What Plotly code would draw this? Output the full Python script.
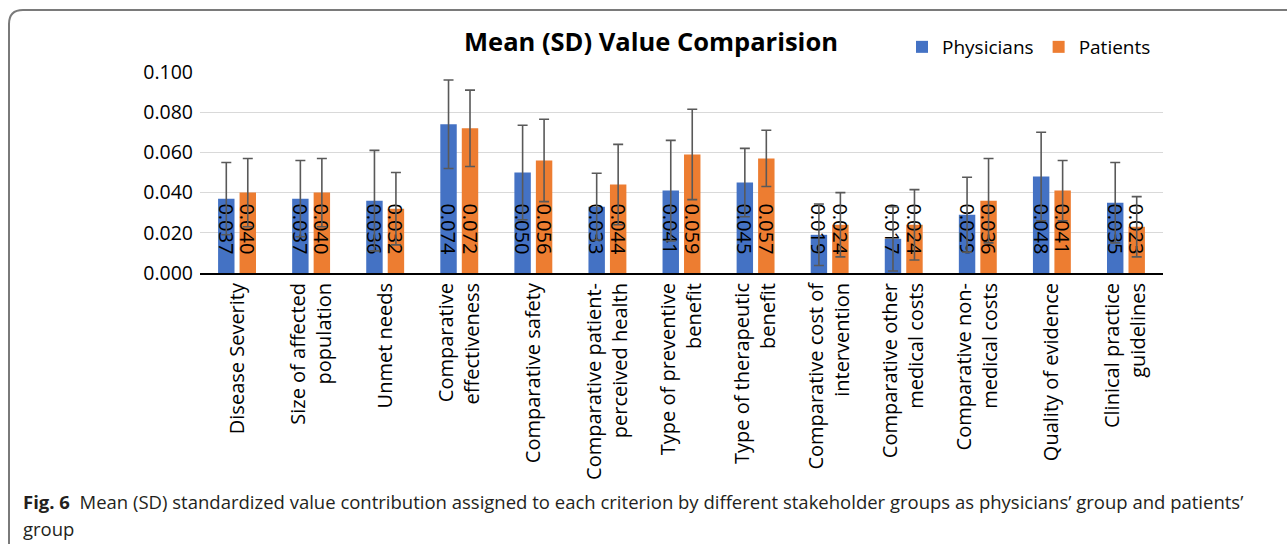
import plotly.graph_objects as go

criteria = [
    "Disease Severity",
    "Size of affected<br>population",
    "Unmet needs",
    "Comparative<br>effectiveness",
    "Comparative safety",
    "Comparative patient-<br>perceived health",
    "Type of preventive<br>benefit",
    "Type of therapeutic<br>benefit",
    "Comparative cost of<br>intervention",
    "Comparative other<br>medical costs",
    "Comparative non-<br>medical costs",
    "Quality of evidence",
    "Clinical practice<br>guidelines",
]
physicians_mean = [0.037, 0.037, 0.036, 0.074, 0.050, 0.033, 0.041, 0.045, 0.019, 0.017, 0.029, 0.048, 0.035]
physicians_sd = [0.018, 0.019, 0.025, 0.022, 0.0235, 0.0166, 0.025, 0.017, 0.0153, 0.016, 0.0186, 0.022, 0.020]
patients_mean = [0.040, 0.040, 0.032, 0.072, 0.056, 0.044, 0.059, 0.057, 0.024, 0.024, 0.036, 0.041, 0.023]
patients_sd = [0.017, 0.017, 0.018, 0.019, 0.0205, 0.020, 0.0225, 0.014, 0.016, 0.0175, 0.021, 0.015, 0.015]

BLUE = "#4472C4"
ORANGE = "#ED7D31"
FONT = "Open Sans, sans-serif"

# plot area in pixels (used to place the page frame and caption)
W, H = 1287, 544
L, R, T, B = 200, 124, 72, 271


def px_x(px):
    return (px - L) / (W - L - R)


def px_y(py):
    return (H - B - py) / (H - T - B)


def label(v):
    return f"{v:.3f}" + "\u00a0" * 3


fig = go.Figure()
for name, means, sds, color in [
    ("Physicians", physicians_mean, physicians_sd, BLUE),
    ("Patients", patients_mean, patients_sd, ORANGE),
]:
    fig.add_trace(
        go.Bar(
            x=criteria,
            y=means,
            name=name,
            marker=dict(color=color, line=dict(width=0)),
            error_y=dict(type="data", array=sds, color="#595959", thickness=1.6, width=5),
            text=[label(v) for v in means],
            textposition="inside",
            insidetextanchor="start",
            textangle=90,
            constraintext="none",
            textfont=dict(family=FONT, size=20, color="#000000"),
            cliponaxis=False,
        )
    )

fig.update_layout(
    width=W,
    height=H,
    barmode="group",
    bargap=0.42,
    bargroupgap=0.235,
    paper_bgcolor="white",
    plot_bgcolor="white",
    font=dict(family=FONT, size=19, color="#000000"),
    margin=dict(l=L, r=R, t=T, b=B, autoexpand=False),
    title=dict(
        text="<b>Mean (SD) Value Comparision</b>",
        font=dict(size=25.5, color="#000000"),
        x=px_x(651),
        xref="paper",
        xanchor="center",
        y=1 - 42 / H,
        yref="container",
        yanchor="middle",
    ),
    legend=dict(
        orientation="h",
        x=px_x(902),
        y=px_y(47),
        xanchor="left",
        yanchor="middle",
        font=dict(size=19),
        bgcolor="rgba(0,0,0,0)",
    ),
    showlegend=True,
)
fig.update_xaxes(
    tickangle=-90,
    showline=True,
    linecolor="#000000",
    linewidth=2,
    ticks="",
    tickfont=dict(size=20),
    automargin=False,
)
fig.update_yaxes(
    range=[0, 0.1],
    dtick=0.02,
    tickformat=".3f",
    tickfont=dict(size=19.5),
    showgrid=True,
    gridcolor="#D9D9D9",
    gridwidth=1.3,
    zeroline=False,
    ticks="",
    ticklabelstandoff=6,
    automargin=False,
)

# page frame
fig.add_shape(
    type="path",
    xref="paper",
    yref="paper",
    path=(
        f"M {px_x(9)},{px_y(600)} L {px_x(9)},{px_y(24)} "
        f"Q {px_x(9)},{px_y(10)} {px_x(23)},{px_y(10)} L {px_x(1300)},{px_y(10)}"
    ),
    line=dict(color="#7A7A7A", width=2),
    layer="below",
)

caption = [
    "<b>Fig. 6</b>  Mean (SD) standardized value contribution assigned to each criterion by different "
    "stakeholder groups as physicians\u2019 group and patients\u2019",
    "group",
]
for i, line in enumerate(caption):
    fig.add_annotation(
        text=line,
        xref="paper",
        yref="paper",
        x=px_x(21),
        y=px_y(502 + 26 * i),
        xanchor="left",
        yanchor="middle",
        showarrow=False,
        font=dict(family=FONT, size=18.5, color="#231F20"),
    )

fig.write_html(
    "out.html",
    config={"displayModeBar": False},
    post_script="document.body.style.margin='0';",
)
